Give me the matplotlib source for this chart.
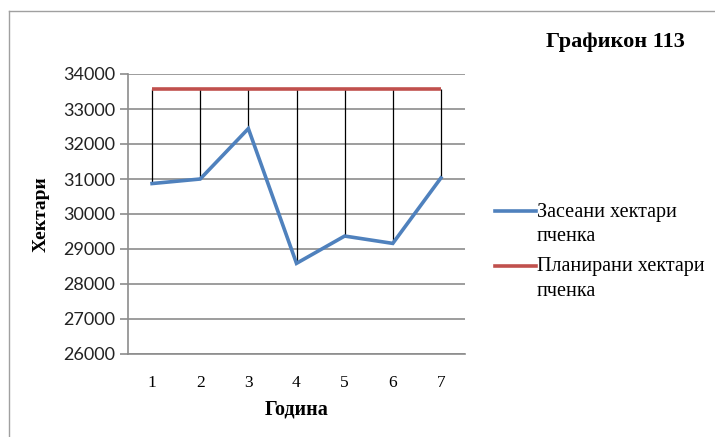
import matplotlib
matplotlib.use("Agg")
import matplotlib.pyplot as plt
from matplotlib.lines import Line2D

years = [1, 2, 3, 4, 5, 6, 7]
sown = [30870, 31000, 32440, 28590, 29370, 29160, 31030]
planned = [33570, 33570, 33570, 33570, 33570, 33570, 33570]
yticks = [26000, 27000, 28000, 29000, 30000, 31000, 32000, 33000, 34000]
series_names = ["Засеани хектари\nпченка", "Планирани хектари\nпченка"]

blue = "#4F81BD"
red = "#C0504D"
grid_c = "#8C8C8C"

W, H = 715, 437
fig = plt.figure(figsize=(W/100, H/100), dpi=100)
ax = fig.add_axes([128/W, 1-354/H, 337/W, 280/H])

# Drop lines
ax.vlines(years, sown, planned, colors="black", linewidth=0.9, zorder=2)
ax.plot(years, planned, color=red, linewidth=2.6, solid_capstyle="butt", zorder=3)
ax.plot(years, sown, color=blue, linewidth=2.6, solid_joinstyle="miter", zorder=4)

ax.set_xlim(0.5, 7.5)
ax.set_ylim(26000, 34000)
ax.set_yticks(yticks)
ax.set_xticks(years)
ax.set_xticklabels([str(y) for y in years], fontfamily="Liberation Serif", fontsize=12.5)
ax.set_yticklabels([str(v) for v in yticks], fontfamily="Lato", fontsize=13, color="#222222")
ax.grid(axis="y", color=grid_c, linewidth=1.2)
ax.set_axisbelow(True)
for s in ["top", "right"]:
    ax.spines[s].set_visible(False)
for s in ["left", "bottom"]:
    ax.spines[s].set_color(grid_c)
    ax.spines[s].set_linewidth(1.2)
ax.tick_params(axis="y", length=6, color=grid_c, width=1.2, pad=3)
ax.tick_params(axis="x", length=0, pad=15)

ax.set_xlabel("Година", fontfamily="Liberation Serif", fontweight="bold", fontsize=14.5, labelpad=6)
ax.set_ylabel("Хектари", fontfamily="Liberation Serif", fontweight="bold", fontsize=14, labelpad=10)

fig.text(615/W, 1-42/H, "Графикон 113", fontfamily="Liberation Serif", fontweight="bold",
         fontsize=16, ha="center", va="center")

# Legend drawn manually (handle aligned with first text line, as in reference)
colors = [blue, red]
tops = [212, 267]
for name, c, y in zip(series_names, colors, tops):
    fig.add_artist(Line2D([495/W, 536/W], [1-(y-1)/H, 1-(y-1)/H], color=c, linewidth=2.6))
    lines = name.split("\n")
    for i, ln in enumerate(lines):
        fig.text(537/W, 1-(y + 24*i)/H, ln, fontfamily="Liberation Serif", fontsize=14.5,
                 ha="left", va="center")

# Outer border lines (top and left)
fig.add_artist(Line2D([9/W, 9/W], [0, 1-11/H], color="#A0A0A0", linewidth=1.0))
fig.add_artist(Line2D([9/W, 1], [1-11/H, 1-11/H], color="#A0A0A0", linewidth=1.0))

fig.savefig("out.png", dpi=100)
